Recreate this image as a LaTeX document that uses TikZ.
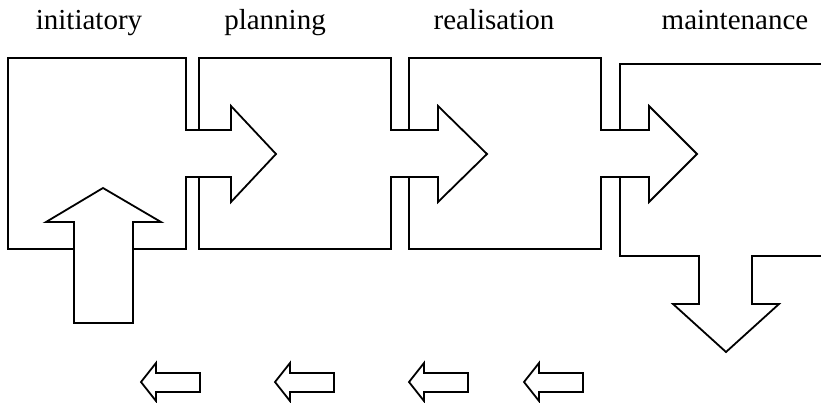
\documentclass[tikz,border=0pt]{standalone}
\usepackage{fontspec}
\setmainfont{Liberation Serif}
\begin{document}
\begin{tikzpicture}[x=1pt,y=-1pt,
  outline/.style={draw=black,line width=1.8pt,line join=miter,fill=none},
  phase/.style={anchor=base,inner sep=0pt,font=\fontsize{29}{32}\selectfont}]
\useasboundingbox (0,0) rectangle (821,402);

% phase titles
\node[phase] (t1) at (89,29)  {initiatory};
\node[phase] (t2) at (275,29) {planning};
\node[phase] (t3) at (494,29) {realisation};
\node[phase] (t4) at (735,29) {maintenance};

% initiatory box with its outgoing arrow
\draw[outline] (74,249) -- (8,249) -- (8,58) -- (186,58) -- (186,130)
  -- (231,130) -- (231,106) -- (276,154) -- (231,202) -- (231,177)
  -- (186,177) -- (186,249) -- (133,249);

% incoming arrow from below
\draw[outline] (74,323) -- (74,222) -- (46,222) -- (103,188) -- (161,222)
  -- (133,222) -- (133,323) -- cycle;

% planning box with its outgoing arrow
\draw[outline] (199,130) -- (199,58) -- (391,58) -- (391,130)
  -- (438,130) -- (438,106) -- (487,154) -- (438,202) -- (438,177)
  -- (391,177) -- (391,249) -- (199,249) -- (199,177);

% realisation box with its outgoing arrow
\draw[outline] (409,130) -- (409,58) -- (601,58) -- (601,130)
  -- (649,130) -- (649,106) -- (697,154) -- (649,202) -- (649,177)
  -- (601,177) -- (601,249) -- (409,249) -- (409,177);

% maintenance box, open to the right, with the outgoing arrow downwards
\draw[outline] (620,130) -- (620,64) -- (825,64);
\draw[outline] (620,177) -- (620,256) -- (699,256) -- (699,304)
  -- (673,304) -- (726,352) -- (779,304) -- (752,304) -- (752,256)
  -- (825,256);

% feedback arrows pointing back
\foreach \tip in {141,275,409,524}{
  \draw[outline] (\tip,382) -- (\tip+15,363) -- (\tip+15,373) -- (\tip+59,373)
    -- (\tip+59,392) -- (\tip+15,392) -- (\tip+15,401) -- cycle;
}
\end{tikzpicture}
\end{document}
